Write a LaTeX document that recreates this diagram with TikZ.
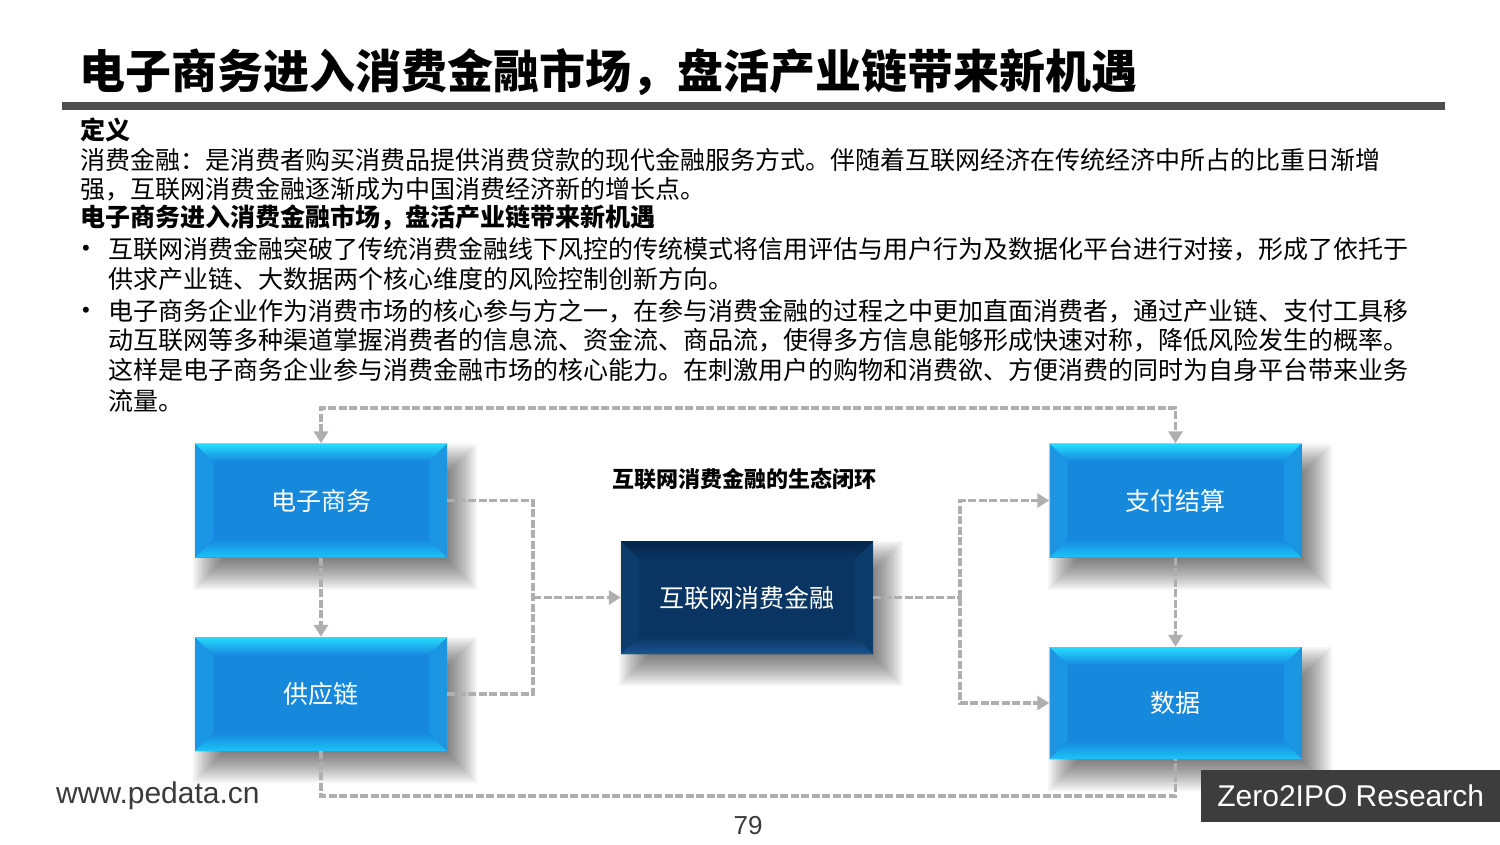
\documentclass[tikz,border=0pt]{standalone}
\usepackage{fontspec}
\setmainfont{Liberation Sans}
\newfontfamily\cjk{Noto Sans CJK SC}
\usetikzlibrary{arrows.meta,calc}

\definecolor{boxmain}{HTML}{1689DD}
\definecolor{boxtop}{HTML}{26DCFF}
\definecolor{boxbot}{HTML}{1FC2FA}
\definecolor{boxside}{HTML}{1A96E4}
\definecolor{finmain}{HTML}{0A3562}
\definecolor{fintop}{HTML}{05254A}
\definecolor{finbot}{HTML}{1C548C}
\definecolor{finside}{HTML}{0C3C6C}
\definecolor{conncol}{HTML}{AFAFAF}
\definecolor{barcol}{HTML}{4D4D4D}
\definecolor{zcol}{HTML}{3D3D3D}
\definecolor{urlcol}{HTML}{3A3A3A}

\newcommand\boxshade[4]{% cx cy w h
  \foreach \k in {0,...,15}{
    \pgfmathsetmacro\rr{16-2*\k}
    \fill[black, opacity=0.04] ({#1-#3/2+14-\rr},{#2-#4/2+16-\rr}) rectangle ({#1+#3/2+14+\rr},{#2+#4/2+16+\rr});
  }}

\tikzset{
  bevelbox/.style n args={4}{
    minimum width=252pt, minimum height=114pt, inner sep=0pt,
    fill=#1, text=white, font=\cjk\fontsize{25}{30}\selectfont,
    path picture={
      \path (path picture bounding box.north west) coordinate (pNW)
            (path picture bounding box.north east) coordinate (pNE)
            (path picture bounding box.south west) coordinate (pSW)
            (path picture bounding box.south east) coordinate (pSE);
      \fill[#4] (pNW) -- ($(pNW)+(18pt,-18pt)$) -- ($(pSW)+(18pt,18pt)$) -- (pSW) -- cycle;
      \fill[#4] (pNE) -- ($(pNE)+(-18pt,-18pt)$) -- ($(pSE)+(-18pt,18pt)$) -- (pSE) -- cycle;
      \fill[top color=#2, bottom color=#1] (pNW) -- (pNE) -- ($(pNE)+(-18pt,-18pt)$) -- ($(pNW)+(18pt,-18pt)$) -- cycle;
      \fill[top color=#1, bottom color=#3] (pSW) -- (pSE) -- ($(pSE)+(-18pt,18pt)$) -- ($(pSW)+(18pt,18pt)$) -- cycle;
    }
  },
  bluebox/.style={bevelbox={boxmain}{boxtop}{boxbot}{boxside}},
  navybox/.style={bevelbox={finmain}{fintop}{finbot}{finside}},
  conn/.style={draw=conncol, line width=3.5pt, dash pattern=on 8pt off 2.5pt},
  tip/.style={-{Triangle[width=14pt,length=12pt]}},
  body/.style={anchor=west, inner sep=0pt, text=black, font=\cjk\fontsize{25}{30}\selectfont},
  bodyb/.style={body, font=\cjk\bfseries\fontsize{25}{30}\selectfont},
  bul/.style={anchor=west, inner sep=0pt, text=black, font=\fontsize{22}{26}\selectfont}
}

\begin{document}
\begin{tikzpicture}[x=1pt, y=-1pt]
\fill[white] (0,0) rectangle (1500,844);
\useasboundingbox (0,0) rectangle (1500,844);

% title and bar
\node[anchor=west, inner sep=0pt, text=black, font=\cjk\bfseries\fontsize{46}{50}\selectfont] (title) at (79,72) {电子商务进入消费金融市场，盘活产业链带来新机遇};
\fill[barcol] (62,102) rectangle (1445,110);

% body text
\node[bodyb] (t1) at (80,130) {定义};
\node[body] (t2) at (80,160) {消费金融：是消费者购买消费品提供消费贷款的现代金融服务方式。伴随着互联网经济在传统经济中所占的比重日渐增};
\node[body] (t3) at (80,189) {强，互联网消费金融逐渐成为中国消费经济新的增长点。};
\node[bodyb] (t4) at (80,218) {电子商务进入消费金融市场，盘活产业链带来新机遇};
\node[bul] (b1) at (82,250) {•};
\node[body] (t5) at (108,249) {互联网消费金融突破了传统消费金融线下风控的传统模式将信用评估与用户行为及数据化平台进行对接，形成了依托于};
\node[body] (t6) at (108,279) {供求产业链、大数据两个核心维度的风险控制创新方向。};
\node[bul] (b2) at (82,312) {•};
\node[body] (t7) at (108,311) {电子商务企业作为消费市场的核心参与方之一，在参与消费金融的过程之中更加直面消费者，通过产业链、支付工具移};
\node[body] (t8) at (108,340) {动互联网等多种渠道掌握消费者的信息流、资金流、商品流，使得多方信息能够形成快速对称，降低风险发生的概率。};
\node[body] (t9) at (108,370) {这样是电子商务企业参与消费金融市场的核心能力。在刺激用户的购物和消费欲、方便消费的同时为自身平台带来业务};
\node[body] (t10) at (108,401) {流量。};

% diagram title
\node[inner sep=0pt, text=black, font=\cjk\bfseries\fontsize{22}{26}\selectfont] (dtitle) at (744,479) {互联网消费金融的生态闭环};

% shadows
\boxshade{321}{500.5}{252}{114}
\boxshade{321}{694}{252}{114}
\boxshade{747}{597.5}{252}{113}
\boxshade{1175.5}{500.5}{252}{114}
\boxshade{1175.5}{703}{252}{112}

% boxes
\node[bluebox] (ec) at (321,500.5) {电子商务};
\node[bluebox] (sc) at (321,694) {供应链};
\node[navybox, minimum height=113pt] (fin) at (747,597.5) {互联网消费金融};
\node[bluebox] (pay) at (1175.5,500.5) {支付结算};
\node[bluebox, minimum height=112pt] (data) at (1175.5,703) {数据};

% connector points
\coordinate (topR) at (1175.5,408);
\coordinate (botR) at (1175.5,796);
\coordinate (j1) at (533,597.5);
\coordinate (j2) at (960,597.5);

% connectors
\draw[conn, {Triangle[width=14pt,length=12pt]}-{Triangle[width=14pt,length=12pt]}] (ec.north) |- (topR) -- (pay.north);
\draw[conn] (sc.south) |- (botR) -- (data.south);
\draw[conn, tip] (ec.south) -- (sc.north);
\draw[conn] (ec.east) -| (j1);
\draw[conn] (sc.east) -| (j1);
\draw[conn, tip] (j1) -- (fin.west);
\draw[conn] (fin.east) -- (j2);
\draw[conn, tip] (j2) |- (pay.west);
\draw[conn, tip] (j2) |- (data.west);
\draw[conn, tip] (pay.south) -- (data.north);

% footer
\node[anchor=west, inner sep=0pt, text=urlcol, font=\fontsize{30}{34}\selectfont] (url) at (56,796) {www.pedata.cn};
\node[inner sep=0pt, text=urlcol, font=\fontsize{26}{30}\selectfont] (pg) at (748,826) {79};
\node[anchor=north west, fill=zcol, minimum width=299pt, minimum height=52pt, inner sep=0pt, text=white, font=\fontsize{30}{34}\selectfont] (zero) at (1201,770) {Zero2IPO Research};
\end{tikzpicture}
\end{document}
